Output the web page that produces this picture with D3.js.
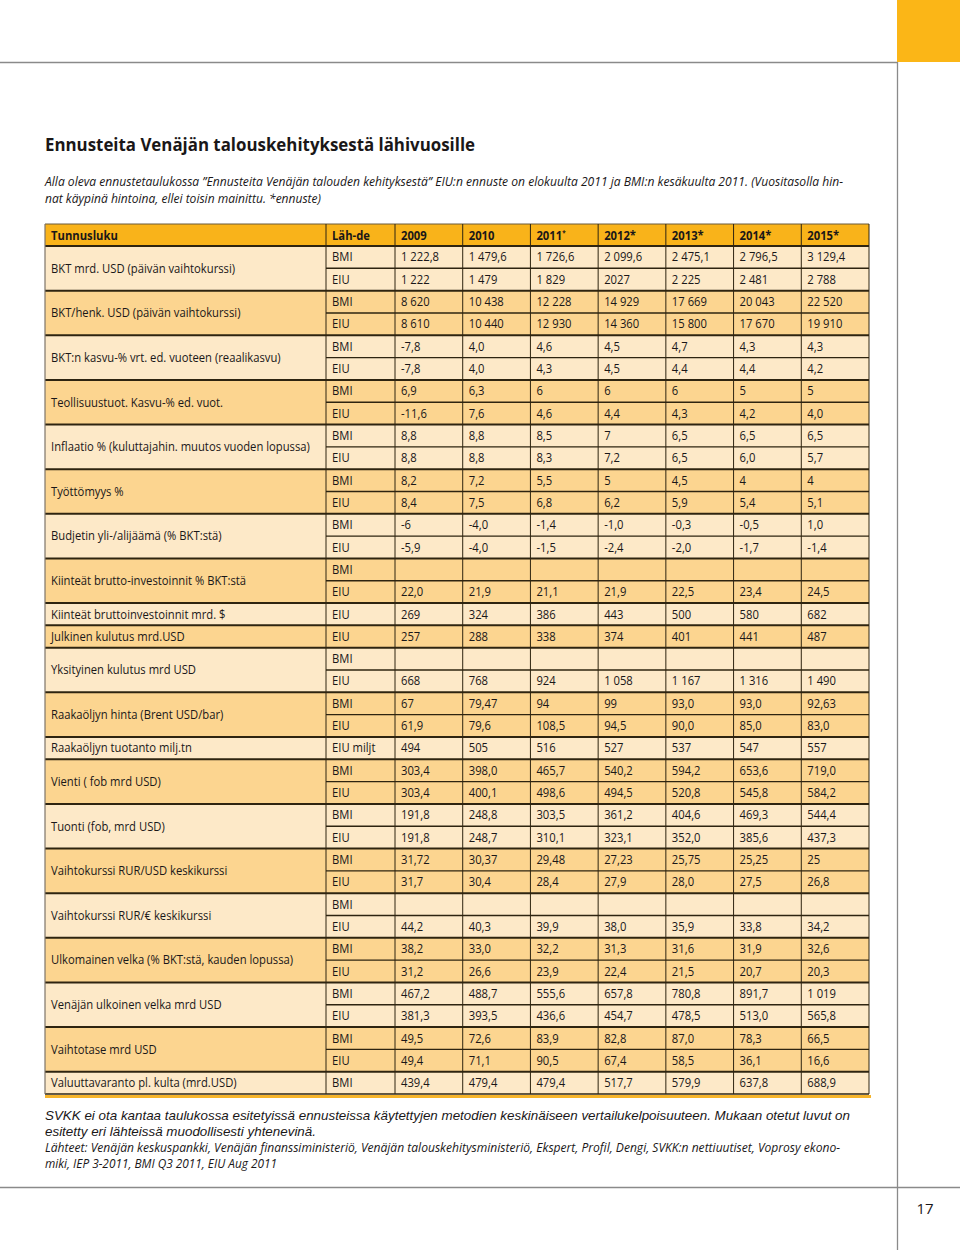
<!DOCTYPE html>
<html><head><meta charset="utf-8">
<script src="https://cdn.jsdelivr.net/npm/d3@7"></script>
<style>body{margin:0;background:#fff}svg{display:block}</style>
</head><body>
<script>
// ---------- DATA ----------
const titleText = "Ennusteita Venäjän talouskehityksestä lähivuosille";
const introLines = [
  "Alla oleva ennustetaulukossa ”Ennusteita Venäjän talouden kehityksestä” EIU:n ennuste on elokuulta 2011 ja BMI:n kesäkuulta 2011. (Vuositasolla hin-",
  "nat käypinä hintoina, ellei toisin mainittu. *ennuste)"
];
const headerLabels = ["Tunnusluku", "Läh-de"];
const years = ["2009", "2010", "2011", "2012*", "2013*", "2014*", "2015*"];
const indicators = [
  "BKT mrd. USD  (päivän vaihtokurssi)",
  "BKT/henk. USD (päivän vaihtokurssi)",
  "BKT:n kasvu-% vrt. ed. vuoteen (reaalikasvu)",
  "Teollisuustuot. Kasvu-% ed. vuot.",
  "Inflaatio % (kuluttajahin. muutos vuoden lopussa)",
  "Työttömyys %",
  "Budjetin yli-/alijäämä (% BKT:stä)",
  "Kiinteät brutto-investoinnit % BKT:stä",
  "Kiinteät bruttoinvestoinnit mrd. $",
  "Julkinen kulutus mrd.USD",
  "Yksityinen kulutus mrd USD",
  "Raakaöljyn hinta  (Brent USD/bar)",
  "Raakaöljyn tuotanto milj.tn",
  "Vienti ( fob mrd USD)",
  "Tuonti (fob, mrd USD)",
  "Vaihtokurssi RUR/USD keskikurssi",
  "Vaihtokurssi RUR/€ keskikurssi",
  "Ulkomainen velka (% BKT:stä, kauden lopussa)",
  "Venäjän ulkoinen velka mrd USD",
  "Vaihtotase mrd USD",
  "Valuuttavaranto  pl. kulta (mrd.USD)"
];
const sources = [
  ["BMI","EIU"],["BMI","EIU"],["BMI","EIU"],["BMI","EIU"],["BMI","EIU"],
  ["BMI","EIU"],["BMI","EIU"],["BMI","EIU"],["EIU"],["EIU"],["BMI","EIU"],
  ["BMI","EIU"],["EIU miljt"],["BMI","EIU"],["BMI","EIU"],["BMI","EIU"],
  ["BMI","EIU"],["BMI","EIU"],["BMI","EIU"],["BMI","EIU"],["BMI"]
];
const values = [
  ["1 222,8","1 479,6","1 726,6","2 099,6","2 475,1","2 796,5","3 129,4"],
  ["1 222","1 479","1 829","2027","2 225","2 481","2 788"],
  ["8 620","10 438","12 228","14 929","17 669","20 043","22 520"],
  ["8 610","10 440","12 930","14 360","15 800","17 670","19 910"],
  ["-7,8","4,0","4,6","4,5","4,7","4,3","4,3"],
  ["-7,8","4,0","4,3","4,5","4,4","4,4","4,2"],
  ["6,9","6,3","6","6","6","5","5"],
  ["-11,6","7,6","4,6","4,4","4,3","4,2","4,0"],
  ["8,8","8,8","8,5","7","6,5","6,5","6,5"],
  ["8,8","8,8","8,3","7,2","6,5","6,0","5,7"],
  ["8,2","7,2","5,5","5","4,5","4","4"],
  ["8,4","7,5","6,8","6,2","5,9","5,4","5,1"],
  ["-6","-4,0","-1,4","-1,0","-0,3","-0,5","1,0"],
  ["-5,9","-4,0","-1,5","-2,4","-2,0","-1,7","-1,4"],
  ["","","","","","",""],
  ["22,0","21,9","21,1","21,9","22,5","23,4","24,5"],
  ["269","324","386","443","500","580","682"],
  ["257","288","338","374","401","441","487"],
  ["","","","","","",""],
  ["668","768","924","1 058","1 167","1 316","1 490"],
  ["67","79,47","94","99","93,0","93,0","92,63"],
  ["61,9","79,6","108,5","94,5","90,0","85,0","83,0"],
  ["494","505","516","527","537","547","557"],
  ["303,4","398,0","465,7","540,2","594,2","653,6","719,0"],
  ["303,4","400,1","498,6","494,5","520,8","545,8","584,2"],
  ["191,8","248,8","303,5","361,2","404,6","469,3","544,4"],
  ["191,8","248,7","310,1","323,1","352,0","385,6","437,3"],
  ["31,72","30,37","29,48","27,23","25,75","25,25","25"],
  ["31,7","30,4","28,4","27,9","28,0","27,5","26,8"],
  ["","","","","","",""],
  ["44,2","40,3","39,9","38,0","35,9","33,8","34,2"],
  ["38,2","33,0","32,2","31,3","31,6","31,9","32,6"],
  ["31,2","26,6","23,9","22,4","21,5","20,7","20,3"],
  ["467,2","488,7","555,6","657,8","780,8","891,7","1 019"],
  ["381,3","393,5","436,6","454,7","478,5","513,0","565,8"],
  ["49,5","72,6","83,9","82,8","87,0","78,3","66,5"],
  ["49,4","71,1","90,5","67,4","58,5","36,1","16,6"],
  ["439,4","479,4","479,4","517,7","579,9","637,8","688,9"]
];
const footLines = [
  "SVKK ei ota kantaa taulukossa esitetyissä ennusteissa käytettyjen metodien keskinäiseen vertailukelpoisuuteen. Mukaan otetut luvut on",
  "esitetty eri lähteissä muodollisesti yhtenevinä.",
  "Lähteet: Venäjän keskuspankki, Venäjän finanssiministeriö, Venäjän talouskehitysministeriö, Ekspert, Profil, Dengi, SVKK:n nettiuutiset, Voprosy ekono-",
  "miki, IEP 3-2011, BMI Q3 2011, EIU Aug 2011"
];
const pageNumber = "17";

// ---------- DRAW ----------
const W = 960, H = 1250;
const svg = d3.select("body").append("svg").attr("width", W).attr("height", H);
const ink = "#1a1718", lineCol = "#2e2410";
const cLight = "#fde9c8", cDark = "#fcd590", cHead = "#f9b31a";
const FONT = "'Open Sans', sans-serif";
const FS = 12.6;

// page furniture
svg.append("rect").attr("x", 897).attr("y", 0).attr("width", 63).attr("height", 62).attr("fill", "#fbb617");
svg.append("line").attr("x1", 0).attr("x2", 897).attr("y1", 62.5).attr("y2", 62.5).attr("stroke", "#8a8a8a").attr("stroke-width", 1.3);
svg.append("line").attr("x1", 897.5).attr("x2", 897.5).attr("y1", 62).attr("y2", H).attr("stroke", "#8a8a8a").attr("stroke-width", 1.3);
svg.append("line").attr("x1", 0).attr("x2", W).attr("y1", 1187.5).attr("y2", 1187.5).attr("stroke", "#8a8a8a").attr("stroke-width", 1.3);
svg.append("text").attr("x", 925).attr("y", 1214).attr("text-anchor", "middle")
  .attr("font-family", FONT).attr("font-size", 15).attr("fill", ink).text(pageNumber);

// title & intro
svg.append("text").attr("x", 45).attr("y", 151).attr("font-family", FONT).attr("font-weight", 700)
  .attr("font-size", 18).attr("fill", ink).attr("textLength", 430).attr("lengthAdjust", "spacingAndGlyphs").text(titleText);
const introW = [798, 276];
introLines.forEach((t, i) => {
  svg.append("text").attr("x", 45).attr("y", 186 + i * 17).attr("font-family", FONT).attr("font-style", "italic")
    .attr("font-size", 12.5).attr("fill", ink).attr("textLength", introW[i]).attr("lengthAdjust", "spacingAndGlyphs").text(t);
});

// scales
const nRows = values.length;
const y = d3.scaleBand().domain(d3.range(nRows)).range([246, 1094]);
const x = d3.scaleBand().domain(years).range([395, 869]);
const xLabel = 45, xSrc = 326, xEnd = 869;
const headTop = 224, headBot = 246;

// measure text compression to mimic a narrow humanist face
const probe = svg.append("text").attr("font-family", FONT).attr("font-size", FS).text(indicators[4]);
const sx = 259 / probe.node().getComputedTextLength();
probe.remove();

function cellText(g, tx, ty, t, bold) {
  const el = g.append("text").attr("transform", `translate(${tx},${ty}) scale(${sx},1)`)
    .attr("font-family", FONT).attr("font-size", FS).attr("fill", ink);
  if (bold) el.attr("font-weight", 700);
  return el.text(t);
}

// row model
const rows = [];
let r = 0;
indicators.forEach((lab, gi) => {
  sources[gi].forEach((s, si) => {
    rows.push({ row: r, group: gi, src: s, first: si === 0, vals: values[r] });
    r++;
  });
});
const groups = indicators.map((lab, gi) => {
  const rr = rows.filter(d => d.group === gi);
  return { label: lab, gi, start: rr[0].row, end: rr[rr.length - 1].row };
});

const g = svg.append("g");
// header
g.append("rect").attr("x", xLabel).attr("y", headTop).attr("width", xEnd - xLabel).attr("height", headBot - headTop).attr("fill", cHead);
// groups backgrounds
g.selectAll("rect.grp").data(groups).join("rect").attr("class", "grp")
  .attr("x", xLabel).attr("width", xEnd - xLabel)
  .attr("y", d => y(d.start)).attr("height", d => y(d.end) + y.bandwidth() - y(d.start))
  .attr("fill", d => d.gi % 2 === 0 ? cLight : cDark);

// horizontal lines
rows.forEach(d => {
  if (d.row === 0) return;
  const yy = y(d.row);
  if (d.first) {
    g.append("line").attr("x1", xLabel).attr("x2", xEnd).attr("y1", yy).attr("y2", yy).attr("stroke", lineCol).attr("stroke-width", 2);
  } else {
    g.append("line").attr("x1", xSrc).attr("x2", xEnd).attr("y1", yy).attr("y2", yy).attr("stroke", lineCol).attr("stroke-width", 1.4);
  }
});
// header top / bottom, table bottom
g.append("line").attr("x1", xLabel).attr("x2", xEnd).attr("y1", headTop).attr("y2", headTop).attr("stroke", "#6b5a3a").attr("stroke-width", 1);
g.append("line").attr("x1", xLabel).attr("x2", xEnd).attr("y1", headBot).attr("y2", headBot).attr("stroke", lineCol).attr("stroke-width", 2.2);
g.append("line").attr("x1", xLabel).attr("x2", xEnd).attr("y1", 1094).attr("y2", 1094).attr("stroke", lineCol).attr("stroke-width", 1.5);
g.append("rect").attr("x", xLabel).attr("y", 1095).attr("width", xEnd - xLabel + 2).attr("height", 3).attr("fill", "#f6b42a");

// vertical lines
const vx = [xSrc].concat(years.map(yr => x(yr))).concat([xEnd]);
vx.forEach(v => {
  g.append("line").attr("x1", v).attr("x2", v).attr("y1", headTop).attr("y2", 1094).attr("stroke", lineCol).attr("stroke-width", 1);
});
g.append("line").attr("x1", xLabel).attr("x2", xLabel).attr("y1", headTop).attr("y2", 1094).attr("stroke", "#7d7468").attr("stroke-width", 1.2);

// header text
const hy = (headTop + headBot) / 2 + 4.5;
cellText(g, xLabel + 6, hy, headerLabels[0], true);
cellText(g, xSrc + 6, hy, headerLabels[1], true);
years.forEach(yr => {
  if (yr === "2011") {
    const t = cellText(g, x(yr) + 6, hy, yr, true);
    t.append("tspan").attr("font-size", 7).attr("dy", -5).text("*");
  } else {
    cellText(g, x(yr) + 6, hy, yr, true);
  }
});

// group labels
groups.forEach(d => {
  const cy = (y(d.start) + y(d.end) + y.bandwidth()) / 2;
  cellText(g, xLabel + 6, cy + 4.3, d.label, false);
});
// sources & values
rows.forEach(d => {
  const cy = y(d.row) + y.bandwidth() / 2 + 4.3;
  cellText(g, xSrc + 6, cy, d.src, false);
  years.forEach((yr, j) => {
    if (d.vals[j] !== "") cellText(g, x(yr) + 6, cy, d.vals[j], false);
  });
});

// footnotes
const footSpec = [
  { y: 1120, w: 805, f: "'Liberation Sans', Arial, sans-serif", s: 13 },
  { y: 1136, w: 271, f: "'Liberation Sans', Arial, sans-serif", s: 13 },
  { y: 1152, w: 795, f: FONT, s: 12.5 },
  { y: 1168, w: 232, f: FONT, s: 12.5 }
];
footLines.forEach((t, i) => {
  svg.append("text").attr("x", 45).attr("y", footSpec[i].y).attr("font-family", footSpec[i].f)
    .attr("font-style", "italic").attr("font-size", footSpec[i].s).attr("fill", ink)
    .attr("textLength", footSpec[i].w).attr("lengthAdjust", "spacingAndGlyphs").text(t);
});
</script>
</body></html>
